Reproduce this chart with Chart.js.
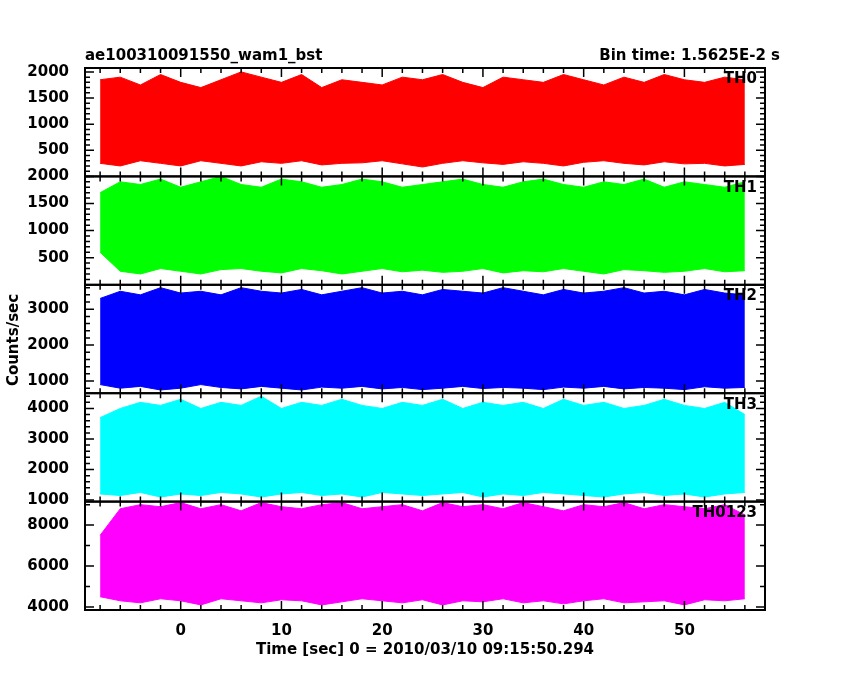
<!DOCTYPE html>
<html><head><meta charset="utf-8">
<script src="https://cdn.jsdelivr.net/npm/chart.js@4/dist/chart.umd.min.js"></script>
<style>html,body{margin:0;background:#fff}#w{width:850px;height:680px}</style>
</head><body><div id="w"><canvas id="c"></canvas></div>
<script>
const times = [-8,-6,-4,-2,0,2,4,6,8,10,12,14,16,18,20,22,24,26,28,30,32,34,36,38,40,42,44,46,48,50,52,54,56];
const panelNames = ['TH0','TH1','TH2','TH3','TH0123'];
const panelColors = ['#ff0000','#00ff00','#0000ff','#00ffff','#ff00ff'];
const th0Max = [1850,1900,1750,1950,1800,1700,1850,2000,1900,1800,1950,1700,1850,1800,1750,1900,1850,1950,1800,1700,1900,1850,1800,1950,1850,1750,1900,1800,1950,1850,1800,1900,1850];
const th0Min = [250,200,300,250,200,300,250,200,280,250,300,220,250,260,300,240,180,250,300,260,230,280,250,200,270,300,250,220,280,240,250,200,230];
const th1Max = [1700,1900,1850,1950,1800,1900,2000,1850,1800,1950,1900,1800,1850,1950,1900,1800,1850,1900,1950,1850,1800,1900,1950,1850,1800,1900,1850,1950,1800,1900,1850,1800,1900];
const th1Min = [600,250,200,300,250,200,280,300,250,220,300,260,200,250,300,240,270,230,250,300,220,260,240,300,250,200,280,260,230,250,300,240,260];
const th2Max = [3300,3500,3400,3600,3450,3500,3400,3600,3500,3450,3550,3400,3500,3600,3450,3500,3400,3550,3500,3450,3600,3500,3400,3550,3450,3500,3600,3450,3500,3400,3550,3450,3400];
const th2Min = [900,800,850,750,800,900,820,780,850,800,750,830,800,850,780,820,760,800,850,790,820,800,760,830,800,850,780,820,800,760,840,800,820];
const th3Max = [3700,4000,4200,4100,4300,4000,4200,4100,4400,4000,4200,4100,4300,4100,4000,4200,4100,4300,4000,4200,4100,4200,4000,4300,4100,4200,4000,4100,4300,4100,4000,4200,3800];
const th3Min = [1200,1150,1250,1100,1200,1150,1250,1200,1100,1200,1250,1150,1200,1100,1250,1200,1150,1200,1250,1100,1200,1150,1250,1200,1150,1100,1200,1250,1150,1200,1100,1200,1250];
const th4Max = [7500,8800,9000,8900,9100,8800,9000,8700,9100,8900,8800,9000,9100,8800,8900,9000,8700,9100,8900,9000,8800,9100,8900,8700,9000,8900,9100,8800,9000,8900,8800,9000,8500];
const th4Min = [4500,4300,4200,4400,4300,4100,4400,4300,4200,4350,4300,4100,4250,4400,4300,4200,4350,4100,4300,4250,4400,4200,4300,4150,4300,4400,4200,4250,4300,4100,4350,4300,4400];
const xTicks = [0,10,20,30,40,50];
const yTickLabels = [[500,1000,1500,2000],[500,1000,1500,2000],[1000,2000,3000],[1000,2000,3000,4000],[4000,6000,8000]];
const yRanges = [[0,2075],[0,2000],[660,3680],[950,4500],[3850,9150]];
const yMinor = [100,100,200,200,1000];
const maxes=[th0Max,th1Max,th2Max,th3Max,th4Max], mins=[th0Min,th1Min,th2Min,th3Min,th4Min];

const FONT='DejaVu Sans';
const datasets=[]; const scales={};
scales.x={type:'linear',min:-9.5,max:58,grid:{display:false},border:{display:false},
  afterBuildTicks:s=>{s.ticks=xTicks.map(v=>({value:v}));},
  afterFit:s=>{s.height=70;},
  ticks:{color:'#000',font:{family:FONT,size:15,weight:'bold'},padding:4,maxRotation:0,autoSkip:false}};
for(let k=4;k>=0;k--){
  const id='y'+k;
  scales[id]={type:'linear',position:'left',stack:'p',stackWeight:1,min:yRanges[k][0],max:yRanges[k][1],
    grid:{display:false},border:{display:false},
    afterBuildTicks:s=>{s.ticks=yTickLabels[k].map(v=>({value:v}));},
    afterFit:s=>{s.width=85;},
    ticks:{color:'#000',font:{family:FONT,size:15,weight:'bold'},padding:8,autoSkip:false,callback:v=>String(v)}};
}
for(let k=0;k<5;k++){
  const id='y'+k;
  datasets.push({data:times.map((t,i)=>({x:t,y:maxes[k][i]})),yAxisID:id,borderColor:panelColors[k],backgroundColor:panelColors[k],borderWidth:1,pointRadius:0,fill:false});
  datasets.push({data:times.map((t,i)=>({x:t,y:mins[k][i]})),yAxisID:id,borderColor:panelColors[k],backgroundColor:panelColors[k],borderWidth:1,pointRadius:0,fill:'-1'});
}
const frame={id:'frame',afterDraw(ch){
  const c=ch.ctx,a=ch.chartArea,xs=ch.scales.x;
  c.save();c.strokeStyle='#000';c.fillStyle='#000';c.lineWidth=2;
  for(let k=0;k<5;k++){
    const s=ch.scales['y'+k];const t=s.top,b=s.bottom;
    c.strokeRect(a.left,t,a.right-a.left,b-t);
    c.lineWidth=1.5;c.beginPath();
    for(let v=Math.ceil(s.min/yMinor[k])*yMinor[k];v<=s.max;v+=yMinor[k]){
      const y=s.getPixelForValue(v);const maj=yTickLabels[k].includes(v)?9:5;
      c.moveTo(a.left,y);c.lineTo(a.left+maj,y);c.moveTo(a.right,y);c.lineTo(a.right-maj,y);}
    for(let v=-8;v<=58;v+=2){
      const x=xs.getPixelForValue(v);const maj=v%10===0?9:5;
      c.moveTo(x,t);c.lineTo(x,t+maj);c.moveTo(x,b);c.lineTo(x,b-maj);}
    c.stroke();c.lineWidth=2;
    c.font='bold 15px '+FONT;c.textAlign='right';c.textBaseline='top';
    c.fillText(panelNames[k],a.right-8,t+4);
  }
  c.font='bold 15px '+FONT;c.textBaseline='alphabetic';
  c.textAlign='left';c.fillText('ae100310091550_wam1_bst',a.left,60);
  c.textAlign='right';c.fillText('Bin time: 1.5625E-2 s',a.right+15,60);
  c.textAlign='center';c.fillText('Time [sec] 0 = 2010/03/10 09:15:50.294',(a.left+a.right)/2,654);
  c.translate(14,340);c.rotate(-Math.PI/2);c.textBaseline='middle';
  c.fillText('Counts/sec',0,0);
  c.restore();}};
new Chart(document.getElementById('c'),{type:'line',data:{datasets},
  options:{responsive:true,maintainAspectRatio:false,animation:false,
    layout:{padding:{left:0,right:85,top:68,bottom:0}},
    plugins:{legend:{display:false},tooltip:{enabled:false}},
    scales},plugins:[frame]});
</script></body></html>
